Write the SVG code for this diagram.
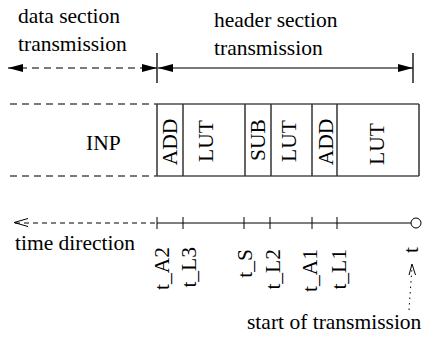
<svg xmlns="http://www.w3.org/2000/svg" width="423" height="338" viewBox="0 0 423 338" font-family="'Liberation Serif', 'DejaVu Serif', serif">
  <style>
    text { font-family: 'Liberation Serif', 'DejaVu Serif', serif; font-size: 21.5px; fill: #000; }
    .gray { stroke: #7a7a7a; stroke-width: 2; fill: none; }
    .dash { stroke-dasharray: 7 5; }
    .tick { stroke: #000; stroke-width: 1.3; fill: none; }
    .div { stroke: #333; stroke-width: 1.5; fill: none; }
    .thin { stroke: #000; stroke-width: 1; fill: none; }
  </style>
  <defs>
    <marker id="head" viewBox="0 0 15 8" refX="15" refY="4" markerWidth="15" markerHeight="8" markerUnits="userSpaceOnUse" orient="auto-start-reverse">
      <path d="M0,0 L15,4 L0,8 Z" fill="#000"/>
    </marker>
  </defs>

  <!-- section spans -->
  <g id="data-section">
    <text x="18" y="23">data section</text>
    <text x="18" y="51">transmission</text>
  </g>
  <g id="header-section">
    <text x="214" y="27">header section</text>
    <text x="214" y="55">transmission</text>
  </g>

  <g id="connectors">
    <!-- span arrows -->
    <line class="gray dash" x1="8" y1="68" x2="157" y2="68" marker-start="url(#head)" marker-end="url(#head)"/>
    <line class="gray" x1="158" y1="68" x2="413" y2="68" marker-start="url(#head)" marker-end="url(#head)"/>
    <line class="tick" x1="157" y1="53" x2="157" y2="83"/>
    <line class="tick" x1="413" y1="53" x2="413" y2="83"/>

    <!-- time axis -->
    <line class="thin" x1="15" y1="223" x2="157" y2="223" stroke-dasharray="5 4"/>
    <polyline class="thin" points="28,218.5 14,222.5 28,226.5"/>
    <line class="thin" x1="157" y1="223" x2="411" y2="223"/>
    <circle cx="416" cy="223" r="5" fill="#fff" stroke="#000" stroke-width="1"/>
    <g class="thin">
      <line x1="157" y1="217" x2="157" y2="229"/>
      <line x1="183" y1="217" x2="183" y2="229"/>
      <line x1="244" y1="217" x2="244" y2="229"/>
      <line x1="270" y1="217" x2="270" y2="229"/>
      <line x1="312" y1="217" x2="312" y2="229"/>
      <line x1="337" y1="217" x2="337" y2="229"/>
    </g>

    <!-- pointer to start of transmission -->
    <line class="thin" x1="409" y1="310" x2="412" y2="267" stroke-dasharray="1.5 4"/>
    <polyline class="thin" points="409,275 412,264 415.5,275"/>
  </g>

  <!-- packet buffer -->
  <g id="inp">
    <line class="gray dash" x1="10" y1="104" x2="157" y2="104"/>
    <line class="gray dash" x1="10" y1="176" x2="157" y2="176"/>
    <text x="86" y="150">INP</text>
  </g>
  <g id="header">
    <line class="gray" x1="157" y1="104" x2="419" y2="104"/>
    <line class="gray" x1="157" y1="176" x2="419" y2="176"/>
    <line class="div" x1="157" y1="104" x2="157" y2="176"/>
    <line class="div" x1="183" y1="104" x2="183" y2="176"/>
    <line class="div" x1="245" y1="104" x2="245" y2="176"/>
    <line class="div" x1="271" y1="104" x2="271" y2="176"/>
    <line class="div" x1="312" y1="104" x2="312" y2="176"/>
    <line class="div" x1="337" y1="104" x2="337" y2="176"/>
    <line class="div" x1="419" y1="104" x2="419" y2="176"/>
  </g>
  <g id="op-add1"><text transform="translate(177,142) rotate(-90)" text-anchor="middle">ADD</text></g>
  <g id="op-lut1"><text transform="translate(213,141) rotate(-90)" text-anchor="middle">LUT</text></g>
  <g id="op-sub"><text transform="translate(265,140) rotate(-90)" text-anchor="middle">SUB</text></g>
  <g id="op-lut2"><text transform="translate(296,141) rotate(-90)" text-anchor="middle">LUT</text></g>
  <g id="op-add2"><text transform="translate(333,142) rotate(-90)" text-anchor="middle">ADD</text></g>
  <g id="op-lut3"><text transform="translate(384,144) rotate(-90)" text-anchor="middle">LUT</text></g>

  <!-- time labels -->
  <g id="time-labels">
    <text x="15" y="250">time direction</text>
    <text transform="translate(169,247) rotate(-90)" text-anchor="end">t_A2</text>
    <text transform="translate(196,247) rotate(-90)" text-anchor="end">t_L3</text>
    <text transform="translate(252,249) rotate(-90)" text-anchor="end">t_S</text>
    <text transform="translate(280,249) rotate(-90)" text-anchor="end">t_L2</text>
    <text transform="translate(317,249) rotate(-90)" text-anchor="end">t_A1</text>
    <text transform="translate(346,249) rotate(-90)" text-anchor="end">t_L1</text>
    <text transform="translate(418,247) rotate(-90)" text-anchor="end">t</text>
  </g>
  <g id="start-label">
    <text x="247" y="329">start of transmission</text>
  </g>
</svg>
